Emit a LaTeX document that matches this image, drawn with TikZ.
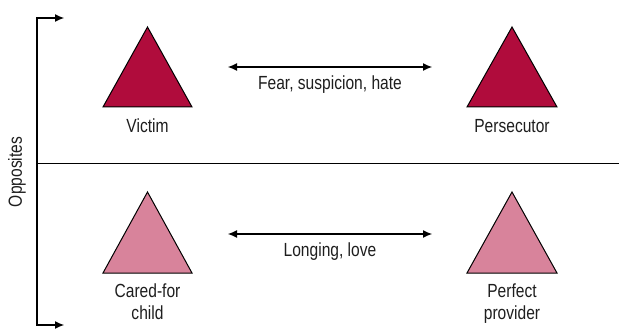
\documentclass[tikz,border=0pt]{standalone}
\usepackage{fontspec}
\setmainfont[FakeStretch=0.82]{Liberation Sans}
\usetikzlibrary{arrows.meta}
\definecolor{darkred}{RGB}{176,12,60}
\definecolor{lightpink}{RGB}{216,131,155}
\definecolor{txt}{RGB}{30,30,30}
\begin{document}
\begin{tikzpicture}[x=1pt,y=-1pt,
  tri/.style={draw=black,line width=1pt,line join=miter},
  lbl/.style={font=\fontsize{19}{22}\selectfont,text=txt,inner sep=0pt,align=center},
  dbl/.style={{Latex[length=9pt,width=8pt]}-{Latex[length=9pt,width=8pt]},line width=1.1pt},
  ax/.style={-{Latex[length=9pt,width=8pt]},line width=1.1pt}]
\useasboundingbox (0,0) rectangle (619,329);
% bracket
\coordinate (bt) at (37,18);
\coordinate (bb) at (37,325);
\coordinate (tt) at (64,18);
\coordinate (tb) at (64,325);
\draw[ax] (bb) -- (bt) -- (tt);
\draw[ax] (bt) -- (bb) -- (tb);
\node[lbl,rotate=90] (opp) at (17,172) {Opposites};
% divider
\coordinate (dl) at (37,163);
\coordinate (dr) at (619,163);
\draw[line width=1pt] (dl) -- (dr);
% triangles
\fill[darkred] (103,107) -- (147.5,27) -- (192,107) -- cycle;
\draw[tri] (103,107) -- (147.5,27) -- (192,107) -- cycle;
\fill[darkred] (467,107) -- (512,27) -- (557,107) -- cycle;
\draw[tri] (467,107) -- (512,27) -- (557,107) -- cycle;
\fill[lightpink] (103,273) -- (147.5,192) -- (192,273) -- cycle;
\draw[tri] (103,273) -- (147.5,192) -- (192,273) -- cycle;
\fill[lightpink] (467,273) -- (512,192) -- (557,273) -- cycle;
\draw[tri] (467,273) -- (512,192) -- (557,273) -- cycle;
% labels
\node[lbl] (victim) at (147.5,126) {Victim};
\node[lbl] (pers) at (512,126) {Persecutor};
\node[lbl,anchor=north] (cared) at (147.5,284) {Cared-for\\child};
\node[lbl,anchor=north] (perfect) at (512,284) {Perfect\\provider};
% arrows
\coordinate (a1) at (228,67);
\coordinate (a2) at (432,67);
\draw[dbl] (a1) -- (a2);
\node[lbl] (fear) at (330,85) {Fear, suspicion, hate};
\coordinate (b1) at (228,234);
\coordinate (b2) at (432,234);
\draw[dbl] (b1) -- (b2);
\node[lbl] (long) at (330,252) {Longing, love};
\end{tikzpicture}
\end{document}
